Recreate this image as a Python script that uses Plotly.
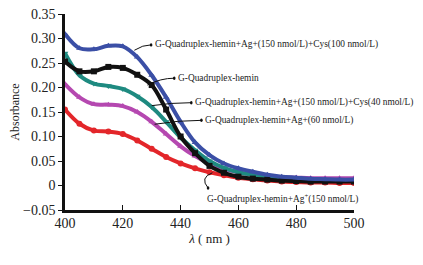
import plotly.graph_objects as go

wavelength = [400, 405, 410, 415, 420, 425, 430, 435, 440, 445, 450,
              455, 460, 465, 470, 475, 480, 485, 490, 495, 500]

cys100 = [0.309, 0.280, 0.278, 0.285, 0.284, 0.262, 0.225, 0.180, 0.130, 0.088, 0.062,
          0.045, 0.035, 0.028, 0.022, 0.018, 0.016, 0.014, 0.013, 0.012, 0.012]
gq_hemin = [0.253, 0.233, 0.233, 0.242, 0.240, 0.226, 0.205, 0.155, 0.100, 0.066, 0.040,
            0.026, 0.018, 0.014, 0.012, 0.010, 0.009, 0.008, 0.008, 0.008, 0.008]
cys40 = [0.270, 0.225, 0.208, 0.203, 0.197, 0.182, 0.160, 0.130, 0.098, 0.072, 0.050,
         0.036, 0.027, 0.022, 0.018, 0.015, 0.013, 0.012, 0.011, 0.011, 0.010]
ag60 = [0.207, 0.180, 0.166, 0.165, 0.162, 0.150, 0.130, 0.105, 0.080, 0.060, 0.045,
        0.034, 0.027, 0.022, 0.019, 0.017, 0.016, 0.015, 0.015, 0.015, 0.015]
ag150 = [0.155, 0.126, 0.112, 0.110, 0.105, 0.092, 0.075, 0.058, 0.045, 0.035, 0.027,
         0.021, 0.016, 0.013, 0.010, 0.008, 0.007, 0.006, 0.006, 0.005, 0.005]

x_ticks = [400, 420, 440, 460, 480, 500]
y_ticks = [-0.05, 0, 0.05, 0.10, 0.15, 0.20, 0.25, 0.30, 0.35]
y_ticktext = ["\u22120.05", "0", "0.05", "0.10", "0.15", "0.20", "0.25", "0.30", "0.35"]

labels = [
    "G-Quadruplex-hemin+Ag+(150 nmol/L)+Cys(100 nmol/L)",
    "G-Quadruplex-hemin",
    "G-Quadruplex-hemin+Ag+(150 nmol/L)+Cys(40 nmol/L)",
    "G-Quadruplex-hemin+Ag+(60 nmol/L)",
    "G-Quadruplex-hemin+Ag<sup>+</sup>(150 nmol/L)",
]

series = [
    (ag150, "#e3262a", "circle"),
    (ag60, "#b548b0", "triangle-up"),
    (cys40, "#1e8a80", "triangle-down"),
    (gq_hemin, "#111111", "square"),
    (cys100, "#3b4fa6", "triangle-up"),
]

fig = go.Figure()
for vals, col, sym in series:
    fig.add_trace(go.Scatter(
        x=wavelength, y=vals, mode="lines+markers",
        line=dict(color=col, width=4, shape="spline"),
        marker=dict(color=col, symbol=sym, size=6),
        showlegend=False,
    ))

font = "Liberation Serif, Times New Roman, serif"

text_pos = [(430.4, 0.287), (438.4, 0.219), (444.3, 0.169), (447.8, 0.133), (448.4, -0.026)]
arrow_head = [(429.8, 0.287), (437.8, 0.219), (443.7, 0.169), (447.2, 0.133)]
arrow_tail = [(424.0, 0.276), (428.5, 0.205), (430.0, 0.163), (431.0, 0.125)]

for lab, (tx, ty) in zip(labels, text_pos):
    fig.add_annotation(x=tx, y=ty, text=lab, showarrow=False, xanchor="left",
                       yanchor="middle", font=dict(family=font, size=9.4, color="#222"))
for (hx, hy), (tx, ty) in zip(arrow_head, arrow_tail):
    fig.add_shape(type="path", xref="x", yref="y",
                  path=f"M {tx},{ty} Q {(tx+hx)/2},{hy} {hx},{hy}",
                  line=dict(color="#111", width=1))
    fig.add_shape(type="circle", xref="x", yref="y",
                  x0=hx - 0.45, x1=hx + 0.45, y0=hy - 0.0035, y1=hy + 0.0035,
                  fillcolor="#111", line=dict(width=0))
fig.add_shape(type="path", xref="x", yref="y",
              path="M 451,0.026 Q 446.5,0.016 449.5,-0.005",
              line=dict(color="#111", width=1))
fig.add_shape(type="circle", xref="x", yref="y",
              x0=449.05, x1=449.95, y0=-0.0085, y1=-0.0015,
              fillcolor="#111", line=dict(width=0))

fig.update_layout(
    width=415, height=257,
    margin=dict(l=57, r=69, t=6, b=55),
    paper_bgcolor="white", plot_bgcolor="white",
    font=dict(family=font, color="#222"),
    xaxis=dict(range=[400, 500], tickvals=x_ticks, showgrid=False, zeroline=False,
               showline=True, linecolor="#111", linewidth=2.5, automargin=False,
               ticks="inside", ticklen=5, tickcolor="#111", ticklabeloverflow="allow",
               ticklabelstandoff=-2,
               tickfont=dict(size=14, family=font),
               title=dict(text="<i>λ</i> ( nm )", font=dict(size=13, family=font), standoff=2)),
    yaxis=dict(range=[-0.05, 0.35], tickvals=y_ticks, ticktext=y_ticktext, showgrid=False,
               zeroline=False, showline=True, linecolor="#111", linewidth=2.5, automargin=False,
               ticks="outside", ticklen=4, tickcolor="#111", ticklabeloverflow="allow",
               tickfont=dict(size=14, family=font),
               title=dict(text="Absorbance", font=dict(size=12, family=font), standoff=8)),
)

fig.write_html("out.html")
